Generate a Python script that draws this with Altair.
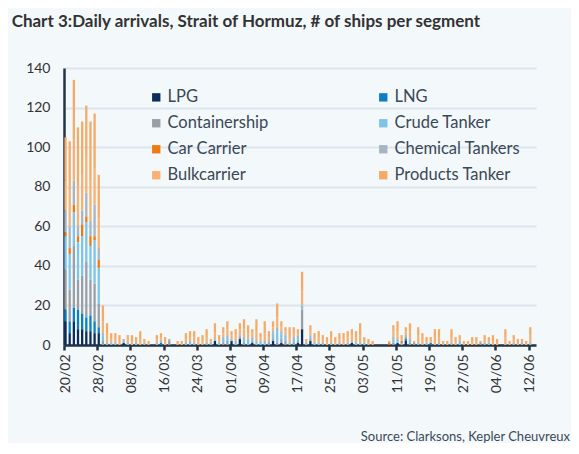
import altair as alt
import pandas as pd

# ---- data -------------------------------------------------------------
n_days = 114
dates = pd.date_range("2025-02-20", periods=n_days, freq="D")
day_labels = [d.strftime("%d/%m") for d in dates]

tick_labels = ["20/02", "28/02", "08/03", "16/03", "24/03", "01/04", "09/04",
               "17/04", "25/04", "03/05", "11/05", "19/05", "27/05", "04/06", "12/06"]

segments = ["LPG", "LNG", "Containership", "Crude Tanker", "Car Carrier",
            "Chemical Tankers", "Bulkcarrier", "Products Tanker"]
colors = ["#0c2d5a", "#0b7fc1", "#9a9ea5", "#7fc3e6", "#ef7a12",
          "#a7b4c2", "#f6b274", "#f5ab66"]

lpg = [12, 6, 12, 8, 8, 7, 7, 6, 6, 0,
       0, 0, 0, 0, 1, 0, 0, 0, 0, 0,
       0, 0, 0, 0, 0, 0, 0, 0, 0, 0,
       0, 0, 0, 0, 0, 0, 2, 0, 0, 0,
       2, 0, 3, 0, 0, 1, 0, 0, 0, 0,
       2, 0, 1, 0, 0, 0, 1, 8, 0, 2,
       0, 0, 0, 0, 0, 0, 0, 0, 0, 1,
       0, 0, 0, 0, 0, 0, 0, 0, 0, 0,
       1, 0, 2, 0, 0, 0, 0, 0, 0, 0,
       0, 0, 0, 0, 0, 0, 0, 0, 0, 0,
       0, 0, 0, 0, 0, 0, 0, 0, 0, 0,
       0, 0, 0, 0]
lng = [6, 6, 7, 10, 8, 7, 8, 6, 3, 0,
       0, 0, 0, 0, 0, 0, 0, 0, 0, 0,
       0, 0, 0, 1, 0, 0, 0, 0, 0, 0,
       0, 0, 0, 0, 0, 0, 0, 0, 0, 0,
       0, 0, 0, 0, 0, 0, 0, 0, 0, 0,
       0, 0, 0, 0, 0, 0, 0, 0, 0, 0,
       0, 0, 0, 0, 0, 0, 0, 0, 0, 0,
       0, 0, 0, 0, 0, 0, 0, 0, 0, 0,
       0, 0, 1, 0, 0, 0, 0, 0, 1, 0,
       0, 0, 0, 0, 0, 0, 0, 0, 0, 0,
       0, 0, 0, 0, 0, 0, 0, 0, 0, 0,
       0, 0, 0, 0]
containership = [20, 16, 31, 15, 19, 28, 18, 19, 12, 2,
                 0, 0, 0, 0, 0, 0, 0, 0, 0, 0,
                 0, 0, 0, 0, 0, 2, 0, 0, 0, 0,
                 0, 0, 0, 0, 0, 0, 0, 0, 1, 2,
                 0, 0, 1, 1, 0, 1, 0, 0, 0, 1,
                 1, 1, 2, 2, 0, 1, 1, 10, 0, 1,
                 0, 0, 0, 0, 0, 0, 0, 0, 0, 0,
                 0, 0, 0, 0, 0, 0, 0, 0, 0, 1,
                 0, 0, 1, 1, 1, 0, 0, 0, 0, 0,
                 0, 0, 0, 0, 0, 0, 0, 0, 0, 0,
                 1, 0, 0, 0, 0, 0, 0, 0, 0, 0,
                 0, 0, 0, 0]
crude = [17, 18, 17, 19, 20, 20, 17, 22, 18, 3,
         1, 1, 1, 0, 1, 1, 0, 1, 0, 1,
         0, 0, 1, 1, 0, 0, 0, 0, 0, 1,
         1, 1, 0, 0, 1, 1, 1, 1, 2, 2,
         1, 1, 1, 2, 3, 2, 1, 2, 1, 1,
         3, 6, 3, 2, 1, 2, 2, 2, 1, 1,
         1, 1, 1, 0, 1, 0, 1, 0, 1, 1,
         1, 1, 1, 0, 0, 0, 0, 0, 0, 2,
         1, 1, 1, 1, 0, 1, 0, 1, 0, 0,
         1, 0, 0, 1, 0, 2, 0, 0, 0, 0,
         0, 1, 1, 0, 0, 0, 0, 0, 1, 0,
         1, 0, 1, 0]
car = [2, 3, 4, 3, 6, 3, 5, 2, 4, 0,
       0, 0, 0, 0, 0, 0, 0, 0, 0, 0,
       0, 0, 0, 0, 0, 0, 0, 0, 0, 0,
       0, 0, 0, 0, 0, 0, 0, 0, 0, 0,
       0, 0, 0, 0, 0, 0, 0, 0, 0, 0,
       0, 0, 0, 0, 0, 0, 0, 0, 0, 0,
       0, 0, 0, 0, 0, 0, 0, 0, 0, 0,
       0, 0, 0, 0, 0, 0, 0, 0, 1, 0,
       0, 1, 0, 0, 0, 0, 0, 0, 0, 0,
       0, 0, 0, 0, 0, 0, 0, 0, 0, 0,
       0, 0, 0, 0, 0, 0, 0, 0, 0, 0,
       0, 0, 0, 0]
chemical = [11, 11, 12, 5, 7, 12, 8, 16, 6, 1,
            0, 0, 0, 0, 1, 0, 0, 0, 0, 0,
            0, 0, 0, 0, 0, 1, 0, 0, 0, 0,
            1, 0, 0, 0, 0, 0, 0, 0, 1, 1,
            0, 1, 0, 1, 0, 0, 1, 0, 1, 0,
            1, 2, 1, 1, 0, 1, 1, 0, 0, 1,
            0, 0, 0, 0, 0, 0, 0, 0, 0, 0,
            0, 0, 0, 0, 0, 0, 0, 0, 0, 1,
            1, 0, 0, 1, 0, 0, 0, 0, 0, 0,
            0, 0, 0, 0, 0, 0, 0, 0, 0, 0,
            0, 0, 0, 0, 0, 0, 0, 0, 0, 0,
            0, 0, 0, 0]
bulk = [15, 18, 21, 20, 18, 18, 20, 18, 15, 6,
        4, 2, 2, 2, 0, 2, 2, 1, 3, 1,
        1, 0, 2, 2, 2, 0, 0, 1, 1, 2,
        2, 3, 2, 2, 3, 1, 3, 2, 2, 3,
        2, 3, 3, 4, 3, 2, 5, 2, 4, 2,
        2, 5, 2, 2, 3, 2, 1, 7, 1, 2,
        2, 3, 2, 2, 3, 2, 2, 3, 3, 3,
        3, 4, 1, 1, 1, 0, 0, 0, 0, 3,
        4, 1, 2, 4, 0, 4, 3, 1, 1, 4,
        3, 1, 1, 3, 2, 1, 1, 1, 2, 2,
        0, 2, 1, 2, 1, 0, 4, 1, 2, 1,
        1, 1, 4, 0]
products = [22, 25, 30, 30, 27, 26, 30, 28, 22, 8,
            6, 3, 3, 3, 0, 2, 3, 2, 4, 1,
            1, 0, 2, 2, 2, 0, 0, 1, 1, 3,
            3, 3, 2, 3, 4, 1, 5, 2, 3, 4,
            2, 3, 3, 5, 4, 2, 6, 2, 6, 3,
            3, 7, 3, 2, 5, 3, 2, 10, 1, 3,
            3, 3, 2, 2, 3, 2, 3, 3, 3, 3,
            3, 6, 2, 2, 1, 0, 0, 0, 1, 3,
            5, 2, 2, 4, 1, 4, 3, 2, 2, 4,
            4, 1, 1, 4, 2, 2, 1, 1, 2, 2,
            1, 2, 2, 3, 2, 0, 4, 1, 2, 2,
            1, 1, 4, 0]

series = [lpg, lng, containership, crude, car, chemical, bulk, products]

rows = []
for k, (name, vals) in enumerate(zip(segments, series)):
    for day, v in zip(day_labels, vals):
        rows.append({"day": day, "segment": name, "value": v, "order": k})
df = pd.DataFrame(rows)

FONT = "Lato"
W, H = 472, 277

bars = alt.Chart(df).mark_bar().encode(
    x=alt.X("day:O", sort=day_labels, title=None,
            scale=alt.Scale(paddingInner=0.45, paddingOuter=0.1),
            axis=alt.Axis(values=tick_labels, bandPosition=0, labelAngle=270,
                          labelAlign="right", labelBaseline="middle",
                          labelFont=FONT, labelFontSize=14, labelColor="#333333",
                          labelPadding=4, tickSize=5, tickWidth=2.5,
                          tickColor="#253445", domainColor="#253445",
                          domainWidth=2.5, grid=False)),
    y=alt.Y("value:Q", stack="zero", title=None,
            scale=alt.Scale(domain=[0, 140], nice=False),
            axis=alt.Axis(values=[0, 20, 40, 60, 80, 100, 120, 140],
                          labelFont=FONT, labelFontSize=14, labelColor="#333333",
                          labelPadding=14, ticks=False, domainColor="#253445",
                          domainWidth=2.5, gridColor="#dde4eb", gridWidth=2)),
    color=alt.Color("segment:N", sort=segments,
                    scale=alt.Scale(domain=segments, range=colors),
                    legend=alt.Legend(title=None, orient="none", legendX=84,
                                      legendY=21, columns=2, direction="horizontal",
                                      columnPadding=106, rowPadding=9,
                                      symbolType="square", symbolSize=70,
                                      symbolStrokeWidth=0, labelFont=FONT,
                                      labelFontSize=16.5, labelColor="#3b4856",
                                      labelOffset=3)),
    order=alt.Order("order:Q", sort="ascending"),
)

source_df = pd.DataFrame({"txt": ["Source: Clarksons, Kepler Cheuvreux"]})
source = alt.Chart(source_df).mark_text(
    align="right", baseline="alphabetic", font=FONT, fontSize=13,
    color="#3b4856"
).encode(text="txt:N", x=alt.value(506), y=alt.value(373))

chart = alt.layer(bars, source).properties(
    width=W, height=H,
    title=alt.TitleParams(
        "Chart 3:Daily arrivals, Strait of Hormuz, # of ships per segment",
        anchor="start", dx=-14, offset=30, font=FONT, fontSize=17,
        fontWeight="bold", color="#333333"),
    autosize=alt.AutoSizeParams(type="none"),
    padding={"left": 56, "top": 60, "right": 35, "bottom": 98},
).configure(background="#f3f8fb").configure_view(stroke=None)

chart.save("out.html", embed_options={"renderer": "svg", "actions": False})
